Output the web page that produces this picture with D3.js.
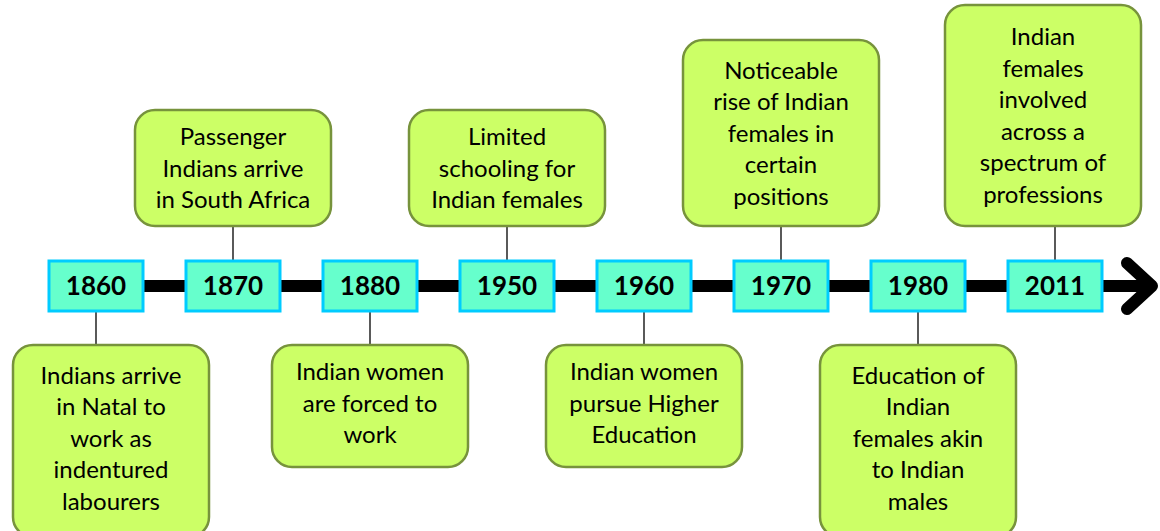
<!DOCTYPE html>
<html>
<head>
<meta charset="utf-8">
<script src="https://cdn.jsdelivr.net/npm/d3@7"></script>
<style>
  body { margin: 0; background: #fff; }
  svg { display: block; }
  .yearText { font-family: Lato, "Open Sans", sans-serif; font-weight: bold; font-size: 26px; fill: #000; }
  .eventText { font-family: Lato, "Open Sans", sans-serif; font-size: 24px; fill: #000; }
</style>
</head>
<body>
<div id="timeline"></div>
<script>
// timeline data
var years = ['1860', '1870', '1880', '1950', '1960', '1970', '1980', '2011'];

var sides = ['below', 'above', 'below', 'above', 'below', 'above', 'below', 'above'];

var events = [
  ['Indians arrive', 'in Natal to', 'work as', 'indentured', 'labourers'],
  ['Passenger', 'Indians arrive', 'in South Africa'],
  ['Indian women', 'are forced to', 'work'],
  ['Limited', 'schooling for', 'Indian females'],
  ['Indian women', 'pursue Higher', 'Education'],
  ['Noticeable', 'rise of Indian', 'females in', 'certain', 'positions'],
  ['Education of', 'Indian', 'females akin', 'to Indian', 'males'],
  ['Indian', 'females', 'involved', 'across a', 'spectrum of', 'professions']
];

// set up svg area
var svgWidth = 1160;
var svgHeight = 531;

var axisY = 286;        // centre of the timeline bar
var yearW = 94, yearH = 50;
var boxW = 196;
var lineH = 31.5;
var aboveBottom = 226;  // lower edge of boxes above the bar
var belowTop = 345;     // upper edge of boxes below the bar
var marginX = 13;

var svg = d3.select('#timeline')
  .append('svg')
  .attr('width', svgWidth)
  .attr('height', svgHeight);

// x positions of the years
var xScale = d3.scalePoint()
  .domain(years)
  .range([96, 1055]);

var tipX = 1152;

// main bar
svg.append('line')
  .attr('x1', xScale(years[0]))
  .attr('x2', tipX - 4)
  .attr('y1', axisY)
  .attr('y2', axisY)
  .attr('stroke', '#000')
  .attr('stroke-width', 12);

// arrow head
svg.append('polyline')
  .attr('points', [[tipX - 25, axisY - 23], [tipX, axisY], [tipX - 25, axisY + 23]].map(p => p.join(',')).join(' '))
  .attr('fill', 'none')
  .attr('stroke', '#000')
  .attr('stroke-width', 12)
  .attr('stroke-linecap', 'round')
  .attr('stroke-linejoin', 'round');

var items = years.map((y, i) => {
  var n = events[i].length;
  var h = 35 * n + 11;
  var top = sides[i] === 'above' ? aboveBottom - h : belowTop;
  if (sides[i] === 'below') h += 6;  // lower boxes run off the page a little
  var cx = xScale(y);
  var left = Math.max(marginX, Math.min(svgWidth - marginX - 6 - boxW, cx - boxW / 2));
  return { year: y, lines: events[i], side: sides[i], cx: cx, left: left, top: top, h: h };
});

// connectors
svg.selectAll('.connector')
  .data(items)
  .enter()
  .append('line')
  .attr('class', 'connector')
  .attr('x1', d => d.cx)
  .attr('x2', d => d.cx)
  .attr('y1', d => d.side === 'above' ? d.top + d.h : axisY + yearH / 2)
  .attr('y2', d => d.side === 'above' ? axisY - yearH / 2 : d.top)
  .attr('stroke', '#000')
  .attr('stroke-width', 1.3);

// year boxes
var yearGroup = svg.selectAll('.year')
  .data(items)
  .enter()
  .append('g')
  .attr('class', 'year')
  .attr('transform', d => `translate(${d.cx}, ${axisY})`);

yearGroup.append('rect')
  .attr('x', -yearW / 2)
  .attr('y', -yearH / 2)
  .attr('width', yearW)
  .attr('height', yearH)
  .attr('fill', '#66FFCC')
  .attr('stroke', '#00CCFF')
  .attr('stroke-width', 3);

yearGroup.append('text')
  .attr('class', 'yearText')
  .attr('text-anchor', 'middle')
  .attr('dy', '0.36em')
  .text(d => d.year);

// event boxes
var boxGroup = svg.selectAll('.event')
  .data(items)
  .enter()
  .append('g')
  .attr('class', 'event');

boxGroup.append('rect')
  .attr('x', d => d.left)
  .attr('y', d => d.top)
  .attr('width', boxW)
  .attr('height', d => d.h)
  .attr('rx', 20)
  .attr('fill', '#CCFF66')
  .attr('stroke', '#77933C')
  .attr('stroke-width', 2.5);

boxGroup.each(function (d) {
  var g = d3.select(this);
  var midY = d.side === 'below' ? d.top + (d.h - 6) / 2 : d.top + d.h / 2;
  var n = d.lines.length;
  g.selectAll('text')
    .data(d.lines)
    .enter()
    .append('text')
    .attr('class', 'eventText')
    .attr('text-anchor', 'middle')
    .attr('x', d.left + boxW / 2)
    .attr('y', (t, i) => midY + (i - (n - 1) / 2) * lineH)
    .attr('dy', '0.36em')
    .text(t => t);
});
</script>
</body>
</html>
